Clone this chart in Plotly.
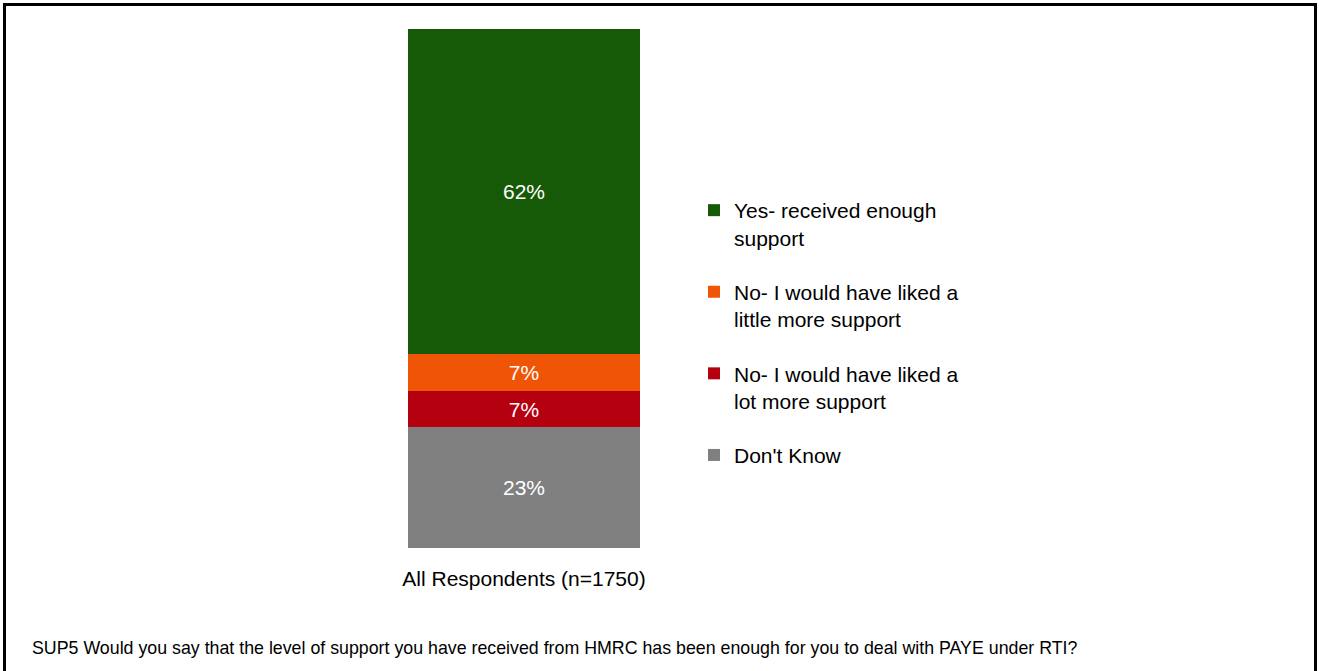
import plotly.graph_objects as go

# Survey responses (percent), stacked bottom to top
category = ["All Respondents (n=1750)"]
series_names = [
    "Don't Know",
    "No- I would have liked a<br>lot more support",
    "No- I would have liked a<br>little more support",
    "Yes- received enough<br>support",
]
series_values = [23, 7, 7, 62]
series_colors = ["#808080", "#B5000F", "#F05407", "#165A08"]
legend_ranks = [4, 3, 2, 1]

footnote = ("SUP5 Would you say that the level of support you have received from "
            "HMRC has been enough for you to deal with PAYE under RTI?")

W, H = 1319, 671
FONT = "Liberation Sans, Arial, sans-serif"
FS = 21

fig = go.Figure()
for name, val, col, rank in zip(series_names, series_values, series_colors, legend_ranks):
    fig.add_trace(go.Bar(
        x=category, y=[val], name=name,
        marker=dict(color=col, line=dict(width=0)),
        text=[f"{val}%"], textposition="inside", insidetextanchor="middle",
        textfont=dict(color="white", size=FS, family=FONT),
        legendgroup=name, legendrank=rank, width=1,
    ))

total = sum(series_values)

fig.update_layout(
    width=W, height=H,
    margin=dict(l=0, r=0, t=0, b=0, autoexpand=False),
    paper_bgcolor="white", plot_bgcolor="white",
    barmode="stack",
    font=dict(family=FONT, size=FS, color="black"),
    xaxis=dict(domain=[408 / W, 640 / W], range=[-0.5, 0.5], automargin=False,
               showgrid=False, zeroline=False, showline=False,
               ticks="outside", ticklen=12, tickcolor="rgba(0,0,0,0)",
               tickfont=dict(size=FS, family=FONT, color="black")),
    yaxis=dict(domain=[1 - 548 / H, 1 - 29 / H], range=[0, total],
               visible=False, automargin=False),
    showlegend=True,
    legend=dict(x=694 / W, y=1 - 190 / H, xanchor="left", yanchor="top",
                traceorder="grouped", tracegroupgap=24, valign="top",
                font=dict(size=FS, family=FONT, color="black"),
                bgcolor="rgba(0,0,0,0)"),
    uniformtext=dict(minsize=8, mode="show"),
)

# Outer frame
fig.add_shape(type="rect", xref="paper", yref="paper",
              x0=4.5 / W, x1=1315.5 / W, y0=-0.02, y1=1 - 4.5 / H,
              line=dict(color="black", width=3), fillcolor="rgba(0,0,0,0)")

fig.add_annotation(text=footnote, xref="paper", yref="paper",
                   x=30 / W, y=1 - 648 / H, xanchor="left", yanchor="middle",
                   showarrow=False, font=dict(size=17.8, family=FONT, color="black"))

fig.write_html("out.html")
